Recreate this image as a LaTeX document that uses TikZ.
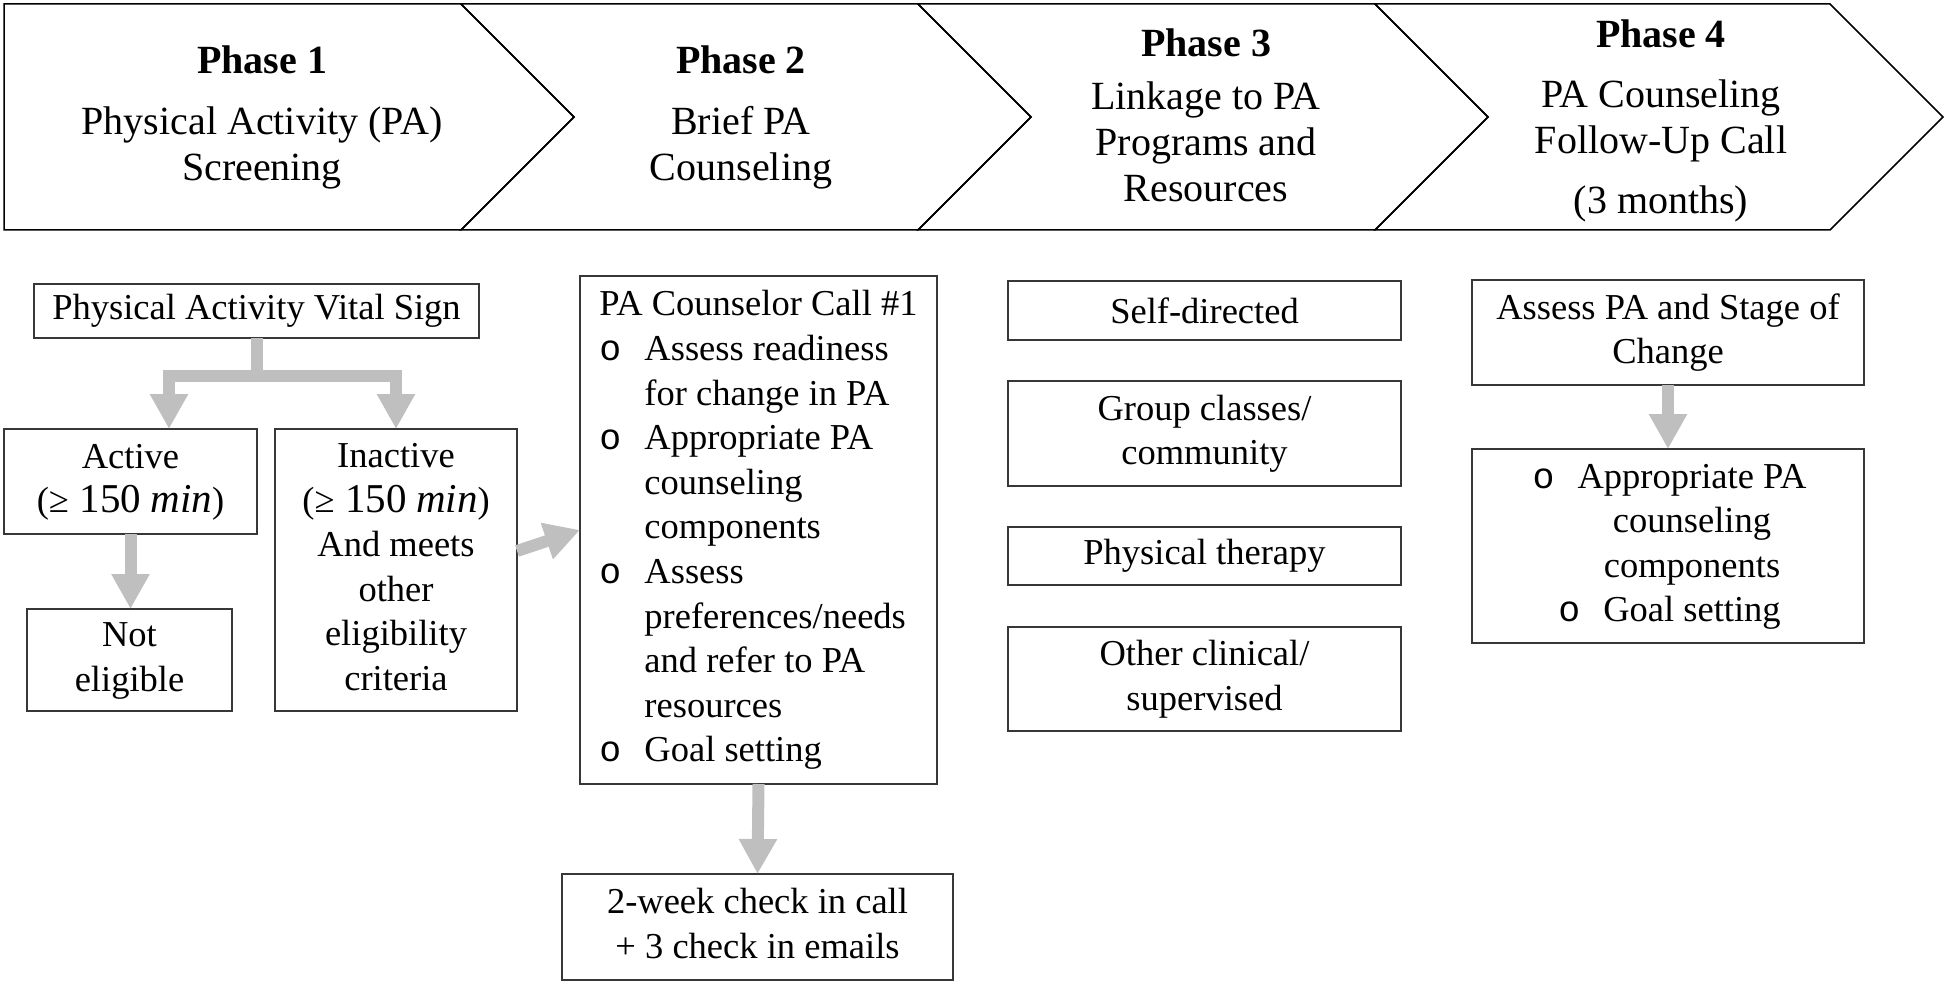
\documentclass[tikz,border=0pt]{standalone}
\usepackage{fontspec}
\setmainfont{Liberation Serif}
\newfontfamily\bulfont{Liberation Mono}
\usetikzlibrary{arrows.meta}
\definecolor{arrowgray}{RGB}{191,191,191}
\definecolor{boxline}{RGB}{55,55,55}
\newcommand{\bul}{{\bulfont o}}
\newcommand{\tb}[2][c]{\begin{tabular}{@{}#1@{}}#2\end{tabular}}
\newcommand{\bi}{\makebox[45pt][l]{\bul}}
\newcommand{\ind}{\hspace*{45pt}}
\newcommand{\mins}{(≥\hspace{0.3em}{\fontsize{41}{44.6}\selectfont 150\hspace{0.22em}\textit{min}})}
\begin{document}
\begin{tikzpicture}[x=1pt,y=-1pt,
  every node/.style={inner sep=0pt, outer sep=0pt},
  head/.style={font=\fontsize{40}{46}\selectfont},
  chev/.style={draw=black, line width=1.5pt, line join=miter},
  box/.style={draw=boxline, line width=2pt, font=\fontsize{36.5}{44.6}\selectfont},
  gline/.style={draw=arrowgray, line width=12pt},
  garrow/.style={draw=arrowgray, line width=12pt, -{Triangle[width=36pt,length=35pt]}}]
\useasboundingbox (0,0) rectangle (1946,987);

% chevrons
\draw[chev] (4,4) -- (461,4) -- (574,117) -- (461,230) -- (4,230) -- cycle;
\draw[chev] (461,4) -- (918,4) -- (1031,117) -- (918,230) -- (461,230) -- (574,117) -- cycle;
\draw[chev] (918,4) -- (1375,4) -- (1488,117) -- (1375,230) -- (918,230) -- (1031,117) -- cycle;
\draw[chev] (1375,4) -- (1830,4) -- (1943,117) -- (1830,230) -- (1375,230) -- (1488,117) -- cycle;

\node[head] (h1) at (262,118) {\tb{\textbf{Phase 1}\\[15pt]Physical Activity (PA)\\Screening}};
\node[head] (h2) at (741,118) {\tb{\textbf{Phase 2}\\[15pt]Brief PA\\Counseling}};
\node[head] (h3) at (1206,120) {\tb{\textbf{Phase 3}\\[7pt]Linkage to PA\\Programs and\\Resources}};
\node[head] (h4) at (1661,121) {\tb{\textbf{Phase 4}\\[14pt]PA Counseling\\Follow-Up Call\\[14pt](3 months)}};

% phase 1 column
\node[box, minimum width=445pt, minimum height=54pt] (pavs) at (256.5,311) {Physical Activity Vital Sign};
\node[box, minimum width=253pt, minimum height=105pt] (active) at (130.5,481.5)
  {\tb{Active\\\mins}};
\node[box, minimum width=242pt, minimum height=282pt] (inactive) at (396,570)
  {\tb{Inactive\\\mins\\And meets\\other\\eligibility\\criteria}};
\node[box, minimum width=205pt, minimum height=102pt] (noteligible) at (129.5,660) {\tb{Not\\eligible}};

% phase 2 column
\node[box, minimum width=357pt, minimum height=508pt] (couns) at (758.5,530)
  {\tb[l]{PA Counselor Call \#1\\
  \bi Assess readiness\\
  \ind for change in PA\\
  \bi Appropriate PA\\
  \ind counseling\\
  \ind components\\
  \bi Assess\\
  \ind preferences/needs\\
  \ind and refer to PA\\
  \ind resources\\
  \bi Goal setting}};
\node[box, minimum width=391pt, minimum height=106pt] (checkin) at (757.5,927)
  {\tb{2-week check in call\\+ 3 check in emails}};

% phase 3 column
\node[box, minimum width=393pt, minimum height=59pt] (selfdir) at (1204.5,310.5) {Self-directed};
\node[box, minimum width=393pt, minimum height=105pt] (group) at (1204.5,433.5) {\tb{Group classes/\\community}};
\node[box, minimum width=393pt, minimum height=58pt] (pt) at (1204.5,556) {Physical therapy};
\node[box, minimum width=393pt, minimum height=104pt] (other) at (1204.5,679) {\tb{Other clinical/\\supervised}};

% phase 4 column
\node[box, minimum width=392pt, minimum height=105pt] (assess) at (1668,332.5) {\tb{Assess PA and Stage of\\Change}};
\node[box, minimum width=392pt, minimum height=194pt] (appr) at (1668,546)
  {\hspace*{48pt}\tb{\llap{\bi}Appropriate PA\\counseling\\components\\\llap{\bi}Goal setting}};

% connectors
\coordinate (splitC) at (256.5,376);
\coordinate (splitL) at (169,376);
\draw[gline] (pavs.south) -- (splitC);
\draw[garrow] (splitC) -| (splitL |- active.north);
\draw[garrow] (splitC) -| (inactive.north);
\draw[garrow] (active.south) -- (active.south |- noteligible.north);
\draw[garrow] ([yshift=19pt]inactive.east) -- (couns.west);
\draw[garrow] (couns.south) -- (checkin.north);
\draw[garrow] (assess.south) -- (appr.north);
\end{tikzpicture}
\end{document}
